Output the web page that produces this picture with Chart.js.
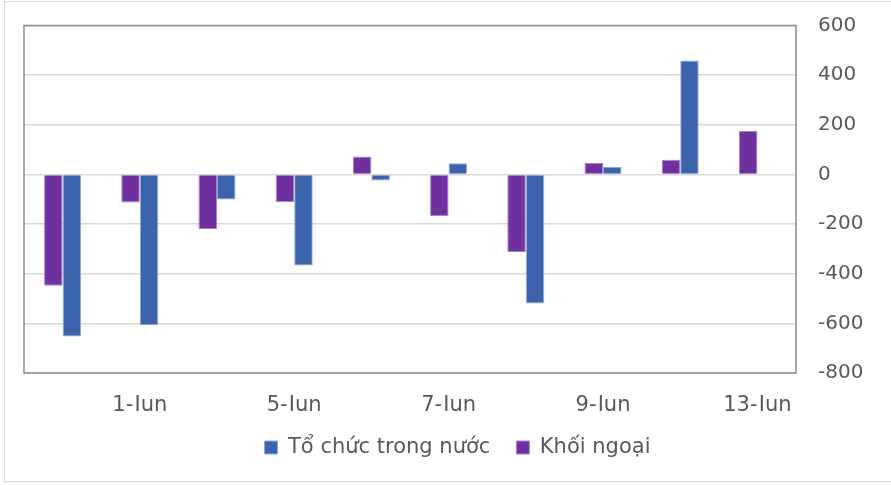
<!DOCTYPE html>
<html>
<head>
<meta charset="utf-8">
<script src="https://cdn.jsdelivr.net/npm/chart.js@4.4.0/dist/chart.umd.min.js"></script>
<style>
  html, body { margin: 0; padding: 0; background: #ffffff; }
  #wrap { position: relative; width: 891px; height: 485px; }
  #frame { position: absolute; left: 4px; top: 1px; width: 890px; height: 481px; border: 1.5px solid #d9d9d9; box-sizing: border-box; pointer-events: none; }
  canvas { position: absolute; left: 0; top: 0; }
</style>
</head>
<body>
<div id="wrap">
  <canvas id="c" width="891" height="485"></canvas>
  <div id="frame"></div>
</div>
<script>
const categories = ["31-May", "1-Jun", "2-Jun", "5-Jun", "6-Jun", "7-Jun", "8-Jun", "9-Jun", "12-Jun", "13-Jun"];
const shownLabelIndexes = [1, 3, 5, 7, 9];
const toChucTrongNuoc = [-653, -608, -101, -367, -24, 45, -520, 31, 459, 0];
const khoiNgoai = [-448, -113, -220, -111, 72, -167, -313, 47, 59, 175];
const yTicks = [600, 400, 200, 0, -200, -400, -600, -800];

const textColor = '#595959';
const fontFamily = '"DejaVu Sans", Tahoma, Verdana, sans-serif';

const plotBorder = {
  id: 'plotBorder',
  afterDatasetsDraw(chart) {
    const a = chart.chartArea;
    const ctx = chart.ctx;
    ctx.save();
    ctx.strokeStyle = '#8a8a8a';
    ctx.lineWidth = 1.5;
    ctx.strokeRect(a.left, a.top, a.right - a.left, a.bottom - a.top);
    ctx.restore();
  }
};

new Chart(document.getElementById('c'), {
  type: 'bar',
  data: {
    labels: categories,
    datasets: [
      {
        label: 'Khối ngoại',
        data: khoiNgoai,
        backgroundColor: '#7030A0',
        borderColor: '#a883c6',
        borderWidth: 1,
        categoryPercentage: 0.48,
        barPercentage: 1.0
      },
      {
        label: 'Tổ chức trong nước',
        data: toChucTrongNuoc,
        backgroundColor: '#3B64AD',
        borderColor: '#90a9d8',
        borderWidth: 1,
        categoryPercentage: 0.48,
        barPercentage: 1.0
      }
    ]
  },
  options: {
    responsive: false,
    animation: false,
    layout: { padding: { left: 24, top: 25.5, right: 0, bottom: 17 } },
    plugins: {
      tooltip: { enabled: false },
      legend: {
        position: 'bottom',
        labels: {
          sort: (a, b) => b.datasetIndex - a.datasetIndex,
          boxWidth: 13,
          boxHeight: 13,
          padding: 26,
          color: textColor,
          font: { family: fontFamily, size: 21 }
        }
      }
    },
    scales: {
      x: {
        grid: { display: false, drawTicks: false },
        border: { display: false },
        ticks: {
          autoSkip: false,
          maxRotation: 0,
          padding: 20,
          color: textColor,
          font: { family: fontFamily, size: 21 },
          callback: function(value, index) {
            return shownLabelIndexes.includes(index) ? categories[index] : '';
          }
        },
        afterFit: (s) => { s.height = 38; }
      },
      y: {
        position: 'right',
        min: -800,
        max: 600,
        afterBuildTicks: (s) => { s.ticks = yTicks.map(v => ({ value: v })); },
        grid: { color: '#d9d9d9', lineWidth: 1.5, drawTicks: true, tickLength: 19, tickColor: 'rgba(0,0,0,0)' },
        border: { display: false },
        ticks: {
          padding: 3,
          color: textColor,
          font: { family: fontFamily, size: 20 }
        },
        afterFit: (s) => { s.width = 95; }
      }
    }
  },
  plugins: [plotBorder]
});
</script>
</body>
</html>
